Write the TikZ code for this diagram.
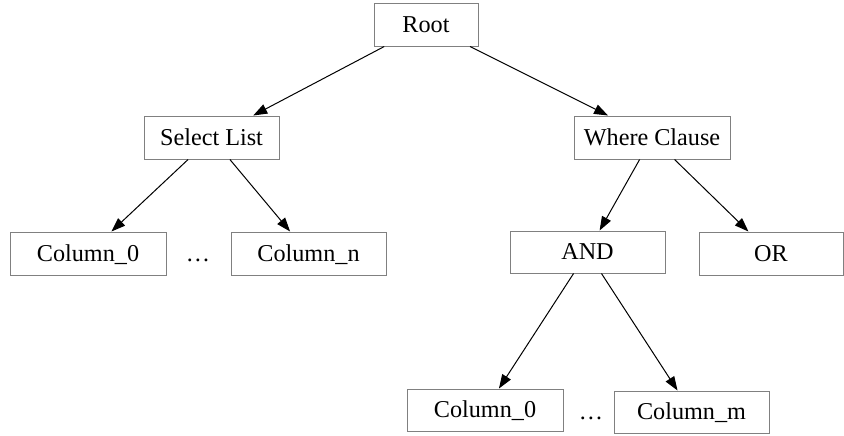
\documentclass[tikz,border=0pt]{standalone}
\usepackage{fontspec}
\setmainfont{Liberation Serif}
\usepackage{tikz}
\usetikzlibrary{arrows.meta}

\begin{document}
\begin{tikzpicture}[x=0.5pt, y=-0.5pt,
    every node/.style={font=\fontsize{12.1}{14}\selectfont, text height=9pt, text depth=1.5pt, inner sep=0pt},
    treebox/.style={draw=gray, line width=0.5pt, minimum height=21.5pt, minimum width=78pt},
    treeedge/.style={line width=0.5pt, -{Triangle[length=7pt, width=5pt]}}]
    \useasboundingbox (0, 0) rectangle (844, 435);
    \node[treebox, minimum width=52pt] (root) at (426, 24.5) {Root};
    \node[treebox, minimum width=67.5pt] (select) at (211.5, 137.5) {Select List};
    \node[treebox] (where) at (652, 137.5) {Where Clause};
    \node[treebox] (selcolA) at (88, 253.5) {Column\_0};
    \node (seldots) at (198, 253.5) {\dots};
    \node[treebox, minimum width=77.5pt] (selcolB) at (308.5, 253.5) {Column\_n};
    \node[treebox, minimum width=77.5pt, minimum height=21pt] (and) at (587.5, 252) {AND};
    \node[treebox, minimum width=72pt] (or) at (771, 253.5) {OR};
    \node[treebox, minimum height=21pt] (andcolA) at (485, 410) {Column\_0};
    \node (anddots) at (591, 412) {\dots};
    \node[treebox, minimum width=77.5pt, minimum height=21pt] (andcolB) at (691.5, 412) {Column\_m};
    \draw[treeedge] (root) -- (select);
    \draw[treeedge] (root) -- (where);
    \draw[treeedge] (select) -- (selcolA);
    \draw[treeedge] (select) -- (selcolB);
    \draw[treeedge] (where) -- (and);
    \draw[treeedge] (where) -- (or);
    \draw[treeedge] (and) -- (andcolA);
    \draw[treeedge] (and) -- (andcolB);
\end{tikzpicture}
\end{document}
